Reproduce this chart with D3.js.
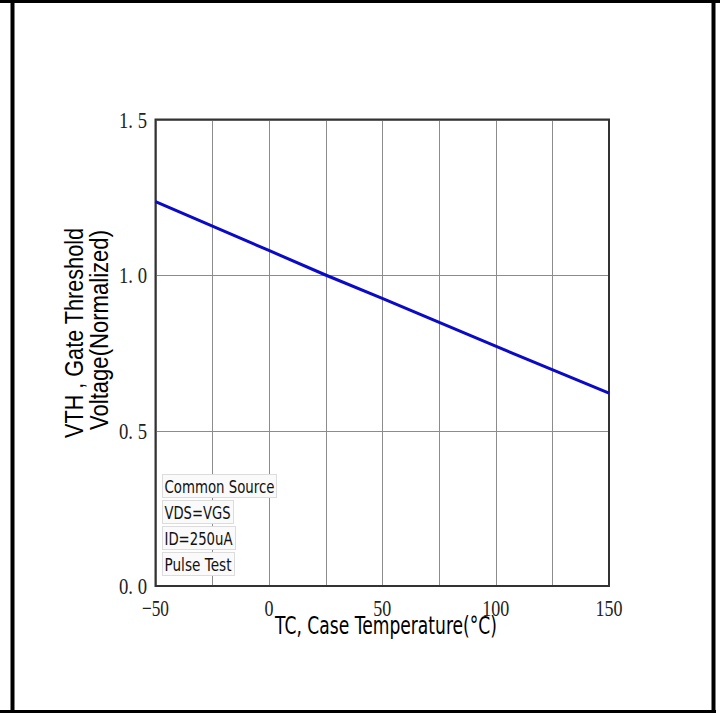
<!DOCTYPE html>
<html><head><meta charset="utf-8">
<script src="https://cdn.jsdelivr.net/npm/d3@7"></script>
<style>body{margin:0;background:#fff}svg{display:block}</style>
</head><body>
<svg id="c" width="723" height="713"></svg>
<script>
const temps = [-50, 0, 25, 50, 100, 150];
const vth = [1.236, 1.079, 1.0, 0.925, 0.771, 0.62];
const xTicks = [-50, 0, 50, 100, 150];
const xGrid = [-50, -25, 0, 25, 50, 75, 100, 125, 150];
const yTicks = [0, 0.5, 1.0, 1.5];
const yTickLabels = ["0. 0", "0. 5", "1. 0", "1. 5"];
const notes = ["Common Source", "VDS=VGS", "ID=250uA", "Pulse Test"];
const xTitle = "TC, Case Temperature(°C)";
const yTitle = ["VTH , Gate Threshold", "Voltage(Normalized)"];

const svg = d3.select("#c");
svg.append("rect").attr("x",0).attr("y",0).attr("width",723).attr("height",713).attr("fill","#fff");
svg.append("line").attr("x1",0).attr("x2",720).attr("y1",1.5).attr("y2",1.5).attr("stroke","#000").attr("stroke-width",3);
svg.append("line").attr("x1",0).attr("x2",716).attr("y1",711.5).attr("y2",711.5).attr("stroke","#000").attr("stroke-width",3);
svg.append("line").attr("x1",12.5).attr("x2",12.5).attr("y1",0).attr("y2",713).attr("stroke","#000").attr("stroke-width",4);
svg.append("line").attr("x1",713.5).attr("x2",713.5).attr("y1",0).attr("y2",713).attr("stroke","#000").attr("stroke-width",4);

const L=155.5, R=609, T=119.5, B=586;
const x = d3.scaleLinear().domain([-50,150]).range([L,R]);
const y = d3.scaleLinear().domain([0,1.5]).range([B,T]);

const g = svg.append("g");
g.selectAll(".vg").data(xGrid).join("line")
  .attr("x1",d=>Math.round(x(d))+0.5).attr("x2",d=>Math.round(x(d))+0.5)
  .attr("y1",T).attr("y2",B).attr("stroke","#8c8c8c").attr("stroke-width",1);
g.selectAll(".hg").data(yTicks).join("line")
  .attr("y1",d=>Math.round(y(d))+0.5).attr("y2",d=>Math.round(y(d))+0.5)
  .attr("x1",L).attr("x2",R).attr("stroke","#8c8c8c").attr("stroke-width",1);
g.append("rect").attr("x",L).attr("y",T).attr("width",R-L).attr("height",B-T)
  .attr("fill","none").attr("stroke","#333").attr("stroke-width",2);

const nb = g.selectAll(".note").data(notes).join("g").attr("transform",(d,i)=>`translate(162.5,${474.5+i*26})`);
const noteW = [114, 71, 73, 72];
const noteTL = [110, 66, 68, 67];
nb.append("rect").attr("width",(d,i)=>noteW[i]).attr("height",23).attr("fill","#fafafa").attr("stroke","#dcdcdc").attr("stroke-width",1);
nb.append("text").attr("x",2).attr("y",18).text(d=>d)
  .attr("font-family","'DejaVu Sans', sans-serif").attr("font-size",18).attr("fill","#111")
  .attr("textLength",(d,i)=>noteTL[i]).attr("lengthAdjust","spacingAndGlyphs");

const line = d3.line().x((d,i)=>x(temps[i])).y(d=>y(d));
g.append("path").datum(vth).attr("d",line).attr("fill","none").attr("stroke","#0a0ac8").attr("stroke-width",3);

g.selectAll(".yt").data(yTicks).join("text")
  .attr("x",147).attr("y",d=>y(d)+8).attr("text-anchor","end")
  .attr("font-family","'Liberation Serif', serif").attr("font-size",24).attr("fill","#222")
  .attr("textLength",28).attr("lengthAdjust","spacingAndGlyphs")
  .text((d,i)=>yTickLabels[i]);
g.selectAll(".xt").data(xTicks).join("text")
  .attr("x",d=>x(d)).attr("y",616).attr("text-anchor","middle")
  .attr("font-family","'Liberation Serif', serif").attr("font-size",23).attr("fill","#222")
  .attr("textLength",d=>String(Math.abs(d)).length*9 + (d<0?9:0)).attr("lengthAdjust","spacingAndGlyphs")
  .text(d=>d<0?"\u2212"+Math.abs(d):d);

svg.append("text").attr("x",386).attr("y",634).attr("text-anchor","middle")
  .attr("font-family","'DejaVu Sans', sans-serif").attr("font-size",25).attr("fill","#000")
  .attr("textLength",222).attr("lengthAdjust","spacingAndGlyphs").text(xTitle);
svg.append("text").attr("transform","translate(83,333) rotate(-90)").attr("text-anchor","middle")
  .attr("font-family","'Liberation Sans', sans-serif").attr("font-size",25).attr("fill","#000")
  .attr("textLength",210).attr("lengthAdjust","spacingAndGlyphs").text(yTitle[0]);
svg.append("text").attr("transform","translate(108,330) rotate(-90)").attr("text-anchor","middle")
  .attr("font-family","'Liberation Sans', sans-serif").attr("font-size",25).attr("fill","#000")
  .attr("textLength",200).attr("lengthAdjust","spacingAndGlyphs").text(yTitle[1]);
</script>
</body></html>
